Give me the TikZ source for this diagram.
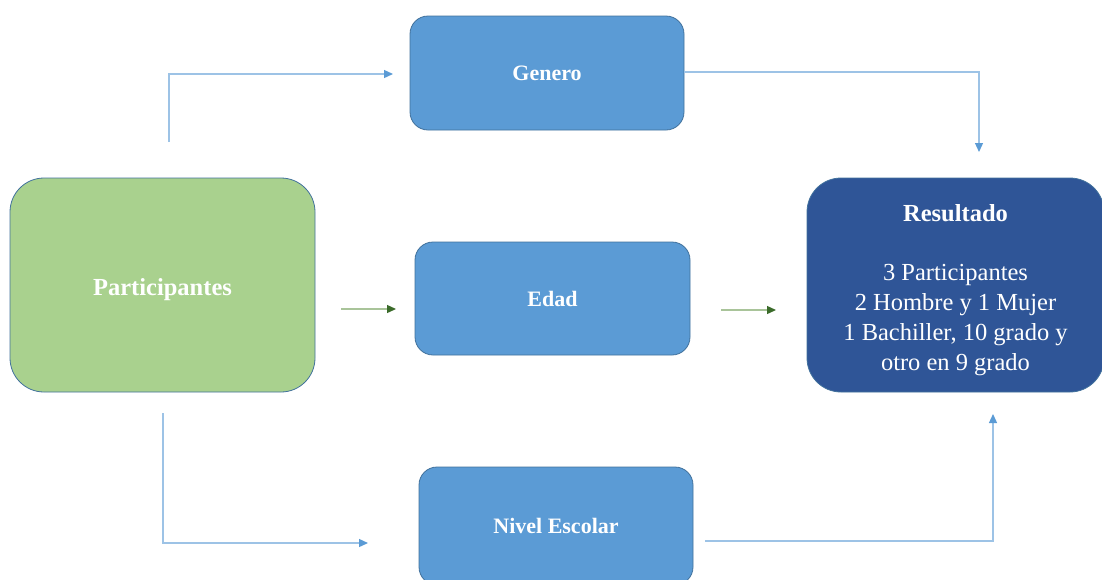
\documentclass[tikz,border=0pt]{standalone}
\usepackage{fontspec}
\setmainfont{Liberation Serif}
\usetikzlibrary{arrows.meta}
\definecolor{boxblue}{HTML}{5B9BD5}
\definecolor{boxedge}{HTML}{41719C}
\definecolor{boxgreen}{HTML}{A9D18E}
\definecolor{boxdark}{HTML}{2F5597}
\definecolor{linkblue}{HTML}{9DC3E6}
\definecolor{linkgreen}{HTML}{A9C49A}
\definecolor{tipgreen}{HTML}{3B6B2A}
\tikzset{
  box/.style={draw=boxedge, line width=0.8pt, fill=boxblue, rounded corners=18pt, text=white,
    font=\bfseries\fontsize{22}{26}\selectfont, inner sep=0pt, align=center},
  link/.style={draw=linkblue, line width=1.3pt, -{Triangle[length=9pt,width=8pt,color=boxblue]}},
  glink/.style={draw=linkgreen, line width=1.3pt, -{Triangle[length=9pt,width=8pt,color=tipgreen]}}
}
\begin{document}
\begin{tikzpicture}[x=1pt,y=-1pt]
\useasboundingbox (0,0) rectangle (1102,579);
\node[box, minimum width=274pt, minimum height=114pt] (gen) at (547,73) {Genero};
\node[box, minimum width=275pt, minimum height=113pt] (edad) at (552.5,298.5) {Edad};
\node[box, minimum width=274pt, minimum height=118pt] (niv) at (556,526) {Nivel Escolar};
\node[box, fill=boxgreen, rounded corners=34pt, minimum width=305pt, minimum height=214pt,
  font=\bfseries\fontsize{24.5}{29}\selectfont] (part) at (162.5,285) {\raisebox{0pt}[\dimexpr\height+10pt\relax]{Participantes}};
\node[box, fill=boxdark, rounded corners=34pt, minimum width=297pt, minimum height=214pt] (res) at (955.5,285) {};
\node[text=white, align=center, font=\fontsize{24.5}{29.7}\selectfont, anchor=north] (restxt) at (955.5,201)
  {\textbf{Resultado}\\[29.7pt]3 Participantes\\2 Hombre y 1 Mujer\\1 Bachiller, 10 grado y\\otro en 9 grado};
% connectors
\coordinate (a1) at (169,142);
\coordinate (a2) at (393,74);
\draw[link] (a1) |- (a2);
\coordinate (b1) at (gen.east |- 0,72);
\coordinate (b2) at (979,152);
\draw[link] (b1) -| (b2);
\coordinate (c1) at (163,413);
\coordinate (c2) at (368,543);
\draw[link] (c1) |- (c2);
\coordinate (d1) at (705,541);
\coordinate (d2) at (993,414);
\draw[link] (d1) -| (d2);
\coordinate (e1) at (341,309);
\coordinate (e2) at (396,309);
\draw[glink] (e1) -- (e2);
\coordinate (f1) at (721,310);
\coordinate (f2) at (776,310);
\draw[glink] (f1) -- (f2);
\end{tikzpicture}
\end{document}
